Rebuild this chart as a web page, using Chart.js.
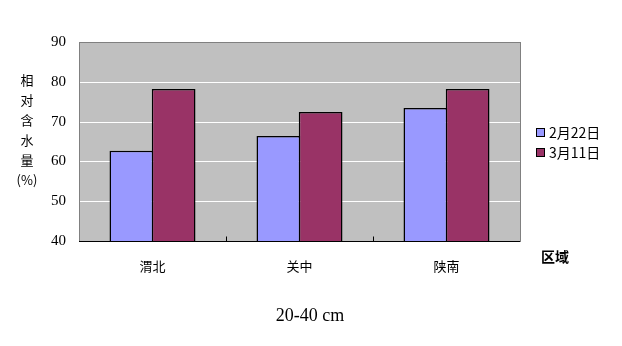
<!DOCTYPE html>
<html>
<head>
<meta charset="utf-8">
<script src="https://cdn.jsdelivr.net/npm/chart.js@4"></script>
<style>
  html, body { margin: 0; padding: 0; background: #fff; }
  canvas { display: block; }
</style>
</head>
<body>
<canvas id="chart" width="622" height="346"></canvas>
<script>
const regions = ["渭北", "关中", "陕南"];
const feb22 = [62.7, 66.4, 73.4];
const mar11 = [78.2, 72.4, 78.2];
const seriesLabels = ["2月22日", "3月11日"];
const yTitle = ["相", "对", "含", "水", "量", "(%)"];
const xTitle = "区域";
const subTitle = "20-40 cm";

const cjk = "'Noto Sans CJK SC', sans-serif";
const serif = "'Liberation Serif', 'Times New Roman', serif";

// gray plot area, frame, category ticks and the loose texts
const decor = {
  id: "decor",
  beforeDatasetsDraw(chart) {
    const { ctx, chartArea: a } = chart;
    ctx.save();
    ctx.fillStyle = "#C0C0C0";
    ctx.fillRect(a.left, a.top, a.right - a.left, a.bottom - a.top);
    // white grid lines
    const y = chart.scales.y;
    ctx.strokeStyle = "#FFFFFF";
    ctx.lineWidth = 1;
    [50, 60, 70, 80].forEach((v) => {
      const py = Math.round(y.getPixelForValue(v)) + 0.5;
      ctx.beginPath();
      ctx.moveTo(a.left, py);
      ctx.lineTo(a.right, py);
      ctx.stroke();
    });
    // frame
    ctx.strokeStyle = "#808080";
    ctx.strokeRect(Math.round(a.left) + 0.5, Math.round(a.top) + 0.5,
      Math.round(a.right - a.left), Math.round(a.bottom - a.top));
    ctx.restore();
  },
  afterDatasetsDraw(chart) {
    const { ctx, chartArea: a } = chart;
    const x = chart.scales.x;
    ctx.save();
    ctx.strokeStyle = "#000";
    ctx.lineWidth = 1;
    const by = Math.round(a.bottom) + 0.5;
    ctx.beginPath();
    ctx.moveTo(a.left, by);
    ctx.lineTo(a.right, by);
    ctx.stroke();
    // tick marks between categories
    for (let i = 1; i < regions.length; i++) {
      const px = Math.round((x.getPixelForValue(i - 1) + x.getPixelForValue(i)) / 2) + 0.5;
      ctx.beginPath();
      ctx.moveTo(px, by);
      ctx.lineTo(px, by - 5);
      ctx.stroke();
    }
    ctx.fillStyle = "#000";
    ctx.textAlign = "center";
    ctx.textBaseline = "middle";
    // y title, stacked
    ctx.font = "13px " + cjk;
    yTitle.forEach((t, i) => ctx.fillText(t, 27, 80 + i * 20));
    // x title
    ctx.font = "bold 14px " + cjk;
    ctx.fillText(xTitle, 555, 257);
    // sub title
    ctx.font = "18px " + serif;
    ctx.fillText(subTitle, 310, 316);
    // legend
    ctx.textAlign = "left";
    ctx.font = "14px " + cjk;
    chart.data.datasets.forEach((ds, i) => {
      const cy = 133 + i * 20;
      ctx.fillStyle = ds.backgroundColor;
      ctx.fillRect(536.5, cy - 4.5, 8, 8);
      ctx.strokeStyle = "#000";
      ctx.strokeRect(536.5, cy - 4.5, 8, 8);
      ctx.fillStyle = "#000";
      ctx.fillText(ds.label, 549, cy);
    });
    ctx.restore();
  }
};

new Chart(document.getElementById("chart"), {
  type: "bar",
  data: {
    labels: regions,
    datasets: [
      {
        label: seriesLabels[0],
        data: feb22,
        backgroundColor: "#9999FF",
        borderColor: "#000000",
        borderWidth: 1.5,
        borderSkipped: false,
        categoryPercentage: 0.575,
        barPercentage: 1.035
      },
      {
        label: seriesLabels[1],
        data: mar11,
        backgroundColor: "#993366",
        borderColor: "#000000",
        borderWidth: 1.5,
        borderSkipped: false,
        categoryPercentage: 0.575,
        barPercentage: 1.035
      }
    ]
  },
  options: {
    responsive: false,
    animation: false,
    devicePixelRatio: 1,
    layout: { padding: { top: 42, right: 102, left: 0, bottom: 0 } },
    plugins: {
      legend: { display: false },
      tooltip: { enabled: false }
    },
    scales: {
      x: {
        grid: { display: false, drawTicks: false },
        border: { display: false },
        ticks: {
          padding: 17,
          color: "#000",
          font: { family: cjk, size: 13 }
        },
        afterFit(scale) { scale.height = 105; }
      },
      y: {
        min: 40,
        max: 90,
        grid: { display: false, drawTicks: false },
        border: { display: false },
        ticks: {
          stepSize: 10,
          padding: 13,
          color: "#000",
          font: { family: serif, size: 15 }
        },
        afterFit(scale) { scale.width = 79; }
      }
    }
  },
  plugins: [decor]
});
</script>
</body>
</html>
